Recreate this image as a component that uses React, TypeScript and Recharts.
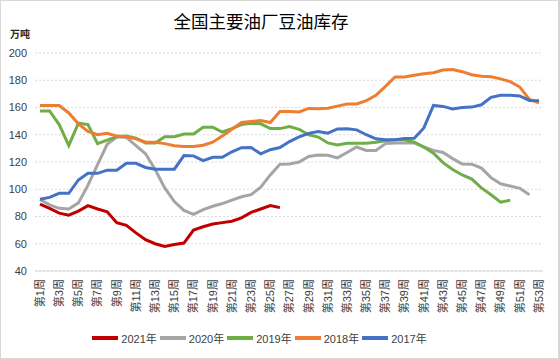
import React from "react";
import { LineChart, Line, XAxis, YAxis, CartesianGrid, Legend } from "recharts";

const weeks = [
  "第1周", "第2周", "第3周", "第4周", "第5周", "第6周", "第7周", "第8周", "第9周", "第10周",
  "第11周", "第12周", "第13周", "第14周", "第15周", "第16周", "第17周", "第18周", "第19周", "第20周",
  "第21周", "第22周", "第23周", "第24周", "第25周", "第26周", "第27周", "第28周", "第29周", "第30周",
  "第31周", "第32周", "第33周", "第34周", "第35周", "第36周", "第37周", "第38周", "第39周", "第40周",
  "第41周", "第42周", "第43周", "第44周", "第45周", "第46周", "第47周", "第48周", "第49周", "第50周",
  "第51周", "第52周", "第53周",
];

const y2021 = [89, 86, 82.5, 81, 84, 88, 85.5, 83.5, 75.5, 73.5, 68, 63, 60, 58, 59.5, 60.5, 70, 72.5, 74.5, 75.5, 76.5, 79, 83, 85.5, 88, 86.5];

const y2020 = [92.5, 88.5, 86, 85.5, 90, 103, 118, 133, 138.5, 138, 132, 126, 114.5, 101, 91, 84.5,
  81.5, 85, 87.5, 89.5, 92, 94.5, 96, 101.5, 110.5, 118.4, 118.6, 120, 124, 125.2, 125, 123, 127, 131, 128.5, 128.5, 133.5,
  134, 134, 134,
  131, 128.5, 127, 122.5, 118.5, 118.4, 115.5, 108.5, 104, 102.4, 100.7, 96];

const y2019 = [157.5, 157.5, 147.5, 132, 148.5, 147.5, 133.5, 136, 138.5, 139, 137.5, 134, 134, 138.5, 138.5, 140.5, 140.5,
  145.5, 145.5, 142, 144.5, 147.5, 148.5, 148, 144.5, 144.5, 146, 144, 140, 138.3, 134, 132.5, 133.8, 133.8, 133.8, 134.5, 135.5,
  136.3, 136.3, 134.5, 131, 126.5, 119.5, 114.5, 110.5, 107.5, 101, 96, 90.5, 92];

const y2018 = [161.5, 161.5, 161.5, 156, 148, 142.5, 140, 141, 139, 138.5, 137, 134.5, 134.5, 133.5, 132, 131.3,
  131.3, 132.3, 134.5, 139, 144, 149, 149.8, 150.4, 149, 157.1, 157.1,
  156.7, 159.3, 159, 159.5, 161, 162.5, 162.6, 165, 169, 175.5, 182.4, 182.4, 183.7, 184.7, 185.5,
  187.5, 187.8, 186.3, 184, 183, 182.5, 181, 179, 175, 166, 163.5];

const y2017 = [92.6, 94, 97, 97, 106.8, 111.7, 111.7, 114, 114, 119, 119, 116, 114.7, 114.7, 114.7, 124.7,
  124.5, 121, 123.5, 123.5, 127.5, 130.5, 130.6, 126, 129, 130.6, 135, 138.5,
  141, 142.4, 141.2, 144.3, 144.4, 143.6, 140, 137, 136.3, 136.3, 137.3, 137.5, 145, 161.5,
  160.8, 159, 160, 160.3, 162, 167.5, 169, 168.9, 168.5, 165.2, 165];

const yTicks = [40, 60, 80, 100, 120, 140, 160, 180, 200];

const seriesList = [
  { key: "y2021", name: "2021年", values: y2021, color: "#C00000" },
  { key: "y2020", name: "2020年", values: y2020, color: "#A5A5A5" },
  { key: "y2019", name: "2019年", values: y2019, color: "#70AD47" },
  { key: "y2018", name: "2018年", values: y2018, color: "#ED7D31" },
  { key: "y2017", name: "2017年", values: y2017, color: "#4472C4" },
];

const data = weeks.map((w, i) => {
  const row: Record<string, string | number | null> = { week: w };
  seriesList.forEach((s) => {
    row[s.key] = i < s.values.length ? s.values[i] : null;
  });
  return row;
});

const FONT = '"Liberation Sans", "Noto Sans CJK SC", sans-serif';

const XTick = (props: any) => {
  const { x, y, payload } = props;
  return (
    <text
      x={x}
      y={y}
      transform={`rotate(-90 ${x} ${y})`}
      textAnchor="end"
      dy="0.35em"
      fontSize={11}
      fill="#404040"
      fontFamily={FONT}
    >
      {payload.value}
    </text>
  );
};

const LegendContent = () => (
  <div
    style={{
      display: "flex",
      justifyContent: "center",
      alignItems: "center",
      height: 22,
      fontFamily: FONT,
      fontSize: 11,
      color: "#404040",
    }}
  >
    {seriesList.map((s) => (
      <div key={s.key} style={{ display: "flex", alignItems: "center", marginRight: 3 }}>
        <div style={{ width: 26, height: 3.5, background: s.color, marginRight: 3 }} />
        <span>{s.name}</span>
      </div>
    ))}
  </div>
);

export default function App() {
  return (
    <div
      style={{
        position: "absolute",
        left: 0,
        top: 0,
        width: 559,
        height: 359,
        background: "#fff",
        fontFamily: FONT,
      }}
    >
      <LineChart
        width={559}
        height={359}
        data={data}
        margin={{ top: 53, right: 16, bottom: 10, left: 0 }}
      >
        <CartesianGrid vertical={false} stroke="#D9D9D9" strokeDasharray="2 2" />
        <XAxis
          dataKey="week"
          interval={1}
          height={56}
          tick={<XTick />}
          tickLine={false}
          axisLine={{ stroke: "#D9D9D9" }}
          padding={{ left: 5, right: 4 }}
        />
        <YAxis
          width={35}
          domain={[40, 200]}
          ticks={yTicks}
          axisLine={false}
          tickLine={false}
          tick={{ fontSize: 11, fill: "#404040", fontFamily: FONT }}
        />
        <Legend
          verticalAlign="bottom"
          height={22}
          content={<LegendContent />}
          wrapperStyle={{ left: 0, width: 522 }}
        />
        {seriesList.map((s) => (
          <Line
            key={s.key}
            dataKey={s.key}
            name={s.name}
            stroke={s.color}
            strokeWidth={3}
            dot={false}
            activeDot={false}
            isAnimationActive={false}
            connectNulls={false}
            type="linear"
          />
        ))}
      </LineChart>
      <div
        style={{
          position: "absolute",
          left: 0,
          top: 12,
          width: 522,
          textAlign: "center",
          fontSize: 17.5,
          lineHeight: "20px",
          color: "#000",
        }}
      >
        全国主要油厂豆油库存
      </div>
      <div
        style={{
          position: "absolute",
          left: 10,
          top: 29,
          fontSize: 10,
          lineHeight: "12px",
          fontWeight: "bold",
          color: "#262626",
        }}
      >
        万吨
      </div>
      <div
        style={{
          position: "absolute",
          left: 0,
          top: 0,
          width: 559,
          height: 359,
          boxSizing: "border-box",
          border: "1px solid #D9D9D9",
          pointerEvents: "none",
        }}
      />
    </div>
  );
}
